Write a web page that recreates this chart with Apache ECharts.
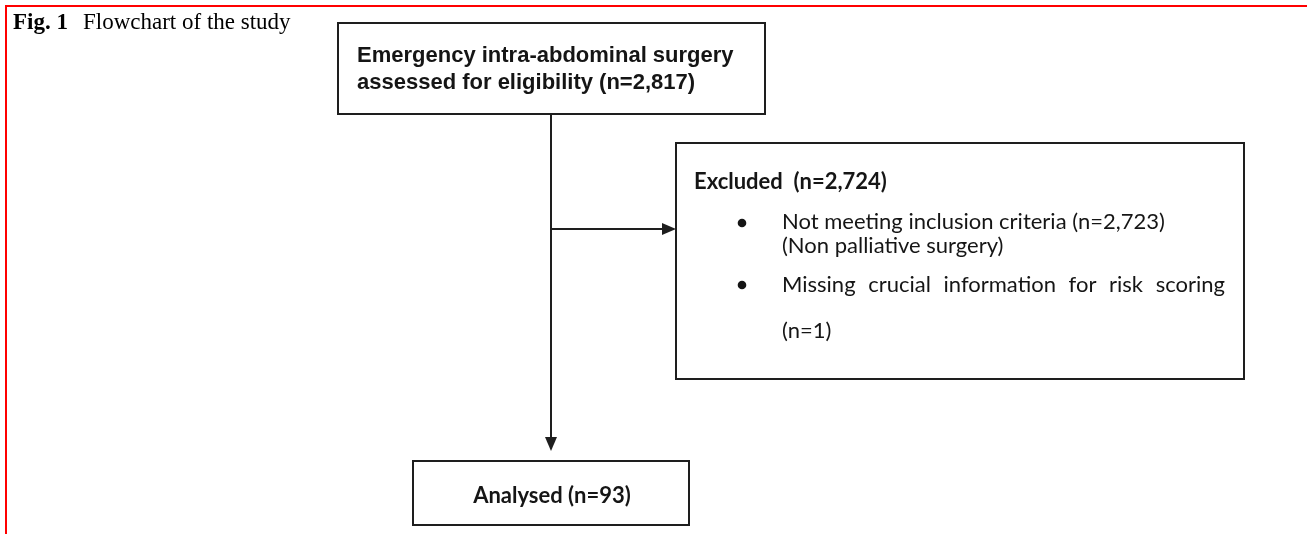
<!DOCTYPE html>
<html>
<head>
<meta charset="utf-8">
<title>Fig. 1 Flowchart of the study</title>
<script src="https://cdn.jsdelivr.net/npm/echarts@6/dist/echarts.min.js"></script>
<style>
    html, body { margin: 0; padding: 0; background: #fff; }
    #main { width: 1307px; height: 534px; }
</style>
</head>
<body>
<div id="main"></div>
<script>
// study flow counts
const stepNames = ['Emergency intra-abdominal surgery', 'Excluded', 'Analysed']
const stepCounts = [2817, 2724, 93]
const exclusionReasons = ['Not meeting inclusion criteria', 'Missing crucial information for risk scoring']
const exclusionNotes = ['(Non palliative surgery)', '']
const exclusionCounts = [2723, 1]

const W = 1307
const H = 534
const LINE = '#1e1e1e'
const TEXT = '#151515'

// layout of the boxes in page units [x0, y0, x1, y1]
const boxes = [
    [338, 23, 765, 114],
    [676, 143, 1244, 379],
    [413, 461, 689, 525]
]
const trunkX = 551
const branchY = 229

const fmt = n => n.toLocaleString('en-US')

const measureCtx = document.createElement('canvas').getContext('2d')
function textWidth(str, font) {
    measureCtx.font = font
    return measureCtx.measureText(str).width
}

function txt(api, x, y, str, font, align) {
    const p = api.coord([x, y])
    return {
        type: 'text',
        style: {
            x: p[0], y: p[1], text: str, font: font,
            fill: TEXT, align: align || 'left', verticalAlign: 'middle'
        }
    }
}

function dot(api, x, y) {
    const p = api.coord([x, y])
    return { type: 'circle', shape: { cx: p[0], cy: p[1], r: 4.3 }, style: { fill: TEXT } }
}

// spreads the words of a line over the full width, like the justified text in the figure
function justified(api, x0, x1, y, str, font) {
    const words = str.split(' ')
    const widths = words.map(w => textWidth(w, font))
    const gap = (x1 - x0 - widths.reduce((a, b) => a + b, 0)) / (words.length - 1)
    const out = []
    let x = x0
    words.forEach((w, i) => {
        out.push(txt(api, x, y, w, font))
        x += widths[i] + gap
    })
    return out
}

function boxTexts(api, idx, b) {
    if (idx === 0) {
        const f = 'bold 22px "Liberation Sans", Arial, sans-serif'
        return [
            txt(api, b[0] + 19, 55.5, stepNames[0], f),
            txt(api, b[0] + 19, 82.5, 'assessed for eligibility (n=' + fmt(stepCounts[0]) + ')', f)
        ]
    }
    if (idx === 1) {
        const fb = 'bold 22px Lato, sans-serif'
        const f = '22px Lato, sans-serif'
        let out = [
            txt(api, 694, 181.5, stepNames[1] + '  (n=' + fmt(stepCounts[1]) + ')', fb),
            dot(api, 742, 223),
            txt(api, 782, 222, exclusionReasons[0] + ' (n=' + fmt(exclusionCounts[0]) + ')', f),
            txt(api, 782, 246, exclusionNotes[0], f),
            dot(api, 742, 285)
        ]
        out = out.concat(justified(api, 782, 1225, 285, exclusionReasons[1], f))
        out.push(txt(api, 782, 330.5, '(n=' + fmt(exclusionCounts[1]) + ')', f))
        return out
    }
    return [
        txt(api, (b[0] + b[2]) / 2 + 1, 496, stepNames[2] + ' (n=' + fmt(stepCounts[2]) + ')', 'bold 22px Lato, sans-serif', 'center')
    ]
}

function renderBox(params, api) {
    const b = boxes[params.dataIndex]
    const p0 = api.coord([b[0], b[1]])
    const p1 = api.coord([b[2], b[3]])
    return {
        type: 'group',
        children: [{
            type: 'rect',
            shape: { x: p0[0], y: p0[1], width: p1[0] - p0[0], height: p1[1] - p0[1] },
            style: { fill: '#fff', stroke: LINE, lineWidth: 2 }
        }].concat(boxTexts(api, params.dataIndex, b))
    }
}

// connectors: trunk with down arrow, branch with right arrow
const connectors = [
    [trunkX, boxes[0][3], trunkX, boxes[2][1] - 10, 'down'],
    [trunkX, branchY, boxes[1][0], branchY, 'right']
]

function renderConnector(params, api) {
    const c = connectors[params.dataIndex]
    const a = api.coord([c[0], c[1]])
    const b = api.coord([c[2], c[3]])
    let head
    if (c[4] === 'down') {
        head = [[b[0], b[1]], [b[0] - 6, b[1] - 14], [b[0] + 6, b[1] - 14]]
    } else {
        head = [[b[0], b[1]], [b[0] - 14, b[1] - 6], [b[0] - 14, b[1] + 6]]
    }
    const end = c[4] === 'down' ? [b[0], b[1] - 12] : [b[0] - 12, b[1]]
    return {
        type: 'group',
        children: [
            { type: 'line', shape: { x1: a[0], y1: a[1], x2: end[0], y2: end[1] }, style: { stroke: LINE, lineWidth: 2 } },
            { type: 'polygon', shape: { points: head }, style: { fill: LINE } }
        ]
    }
}

const chart = echarts.init(document.getElementById('main'), null, { renderer: 'canvas' })
chart.setOption({
    animation: false,
    backgroundColor: '#fff',
    grid: { left: 0, right: 0, top: 0, bottom: 0 },
    xAxis: { type: 'value', min: 0, max: W, show: false },
    yAxis: { type: 'value', min: 0, max: H, inverse: true, show: false },
    graphic: [
        { type: 'rect', shape: { x: 5, y: 5, width: W - 5, height: 2 }, style: { fill: '#ff0000' } },
        { type: 'rect', shape: { x: 5, y: 5, width: 2, height: H - 5 }, style: { fill: '#ff0000' } },
        {
            type: 'text', x: 13, y: 23,
            style: {
                text: 'Fig. 1', fill: '#000', verticalAlign: 'middle',
                font: 'bold 23px "Liberation Serif", "Times New Roman", serif'
            }
        },
        {
            type: 'text', x: 83, y: 23,
            style: {
                text: 'Flowchart of the study', fill: '#000', verticalAlign: 'middle',
                font: '23px "Liberation Serif", "Times New Roman", serif'
            }
        }
    ],
    series: [
        {
            type: 'custom',
            name: 'connectors',
            renderItem: renderConnector,
            data: connectors.map((c, i) => [i]),
            encode: { x: -1, y: -1 },
            silent: true
        },
        {
            type: 'custom',
            name: 'boxes',
            renderItem: renderBox,
            data: boxes.map((b, i) => [i]),
            encode: { x: -1, y: -1 },
            silent: true
        }
    ]
})
</script>
</body>
</html>
